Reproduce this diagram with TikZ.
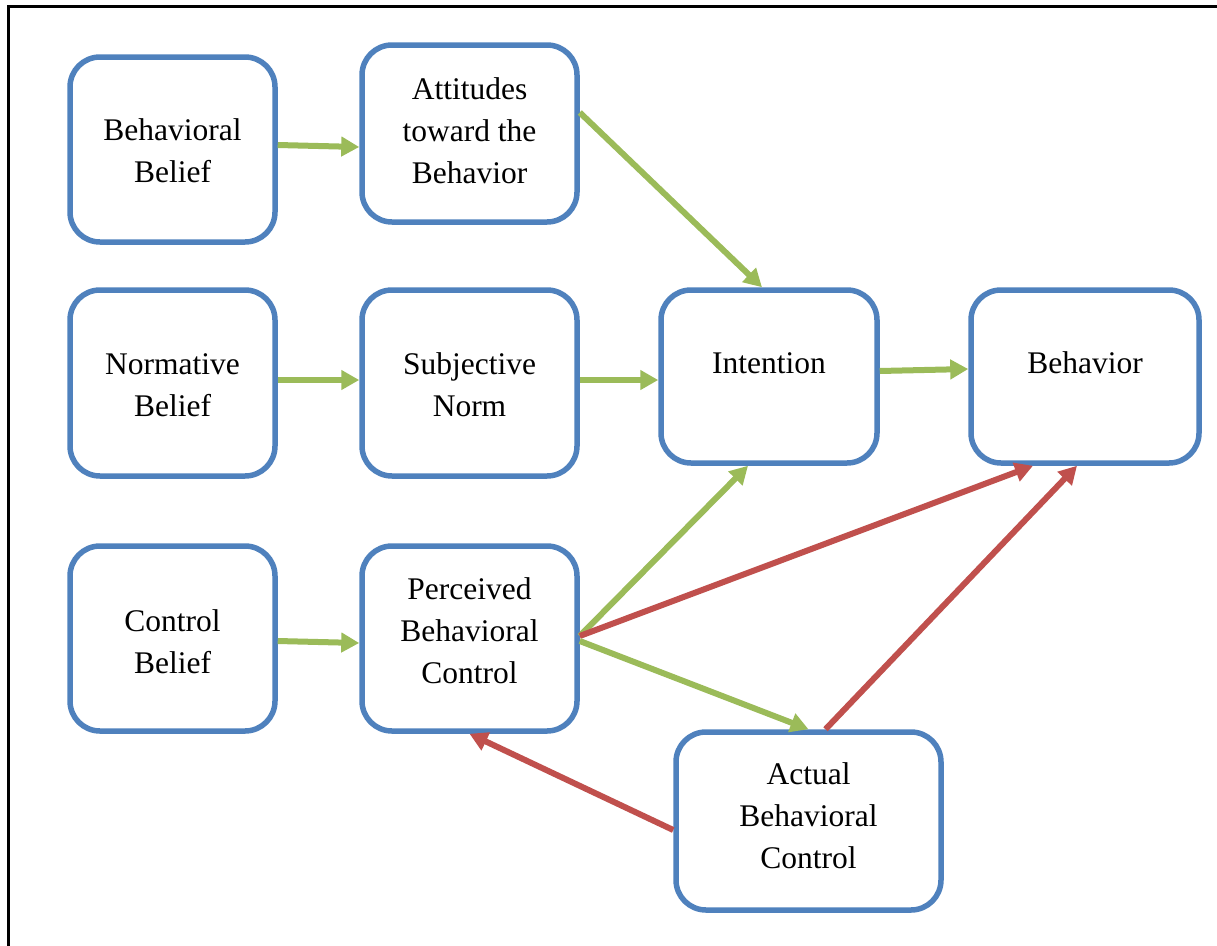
\documentclass[tikz,border=0pt]{standalone}
\usepackage{fontspec}
\setmainfont{Liberation Serif}
\usetikzlibrary{arrows.meta}
\definecolor{boxblue}{HTML}{4F81BD}
\definecolor{arrgreen}{HTML}{9BBB59}
\definecolor{arrred}{HTML}{C0504D}
\tikzset{
  box/.style={draw=boxblue, line width=5.5pt, rounded corners=30pt, align=center, inner sep=0pt,
    font=\fontsize{31.5}{42}\selectfont},
  garrow/.style={draw=arrgreen, line width=6pt, -{Triangle[length=18pt,width=19pt]}},
  rarrow/.style={draw=arrred, line width=6pt, -{Triangle[length=18pt,width=19pt]}},
}
\newcommand{\lift}[2]{\raisebox{#1}[\height][\depth]{\begin{tabular}{@{}c@{}}#2\end{tabular}}}
\begin{document}
\begin{tikzpicture}[x=1pt,y=-1pt]
\useasboundingbox (0,0) rectangle (1217,945);
\draw[line width=3pt, line cap=rect] (8,945) -- (8,6) -- (1217,6);
\node[box, minimum width=205pt, minimum height=185pt] (bb) at (172.5,149.5) {\lift{-3.5pt}{Behavioral\\Belief}};
\node[box, minimum width=215pt, minimum height=177pt] (att) at (469.5,133.5) {\lift{0pt}{Attitudes\\toward the\\Behavior}};
\node[box, minimum width=205pt, minimum height=186pt] (nb) at (172.5,383) {\lift{-4pt}{Normative\\Belief}};
\node[box, minimum width=215pt, minimum height=186pt] (sn) at (469.5,383) {\lift{-4pt}{Subjective\\Norm}};
\node[box, minimum width=216pt, minimum height=173pt] (int) at (769,376.5) {\lift{11pt}{Intention}};
\node[box, minimum width=228pt, minimum height=173pt] (beh) at (1085,376.5) {\lift{11pt}{Behavior}};
\node[box, minimum width=205pt, minimum height=185pt] (cb) at (172.5,638.5) {\lift{-6pt}{Control\\Belief}};
\node[box, minimum width=215pt, minimum height=185pt] (pbc) at (469.5,638.5) {\lift{5pt}{Perceived\\Behavioral\\Control}};
\node[box, minimum width=265pt, minimum height=178pt] (act) at (808.5,821) {\lift{3pt}{Actual\\Behavioral\\Control}};
\draw[garrow] ([yshift=4.5pt]bb.east) -- ([yshift=2.5pt]att.west |- bb.east);
\draw[garrow] ([yshift=21pt]att.east) -- ([xshift=-7pt]int.north);
\draw[garrow] ([yshift=3pt]nb.east) -- ([yshift=3pt]sn.west);
\draw[garrow] ([yshift=3pt]sn.east) -- ([yshift=-3.5pt]int.west);
\draw[garrow] ([yshift=5.5pt]int.east) -- ([yshift=7.5pt]beh.west);
\draw[garrow] ([yshift=2.5pt]pbc.east) -- ([xshift=-21pt]int.south);
\draw[rarrow] ([yshift=2.5pt]pbc.east) -- ([xshift=-52pt]beh.south);
\draw[garrow] ([yshift=-2.5pt]pbc.east) -- (act.north);
\draw[rarrow] ([xshift=17pt]act.north) -- ([xshift=-8pt]beh.south);
\draw[rarrow] ([yshift=-9pt]act.west) -- (pbc.south);
\draw[garrow] ([yshift=-2.5pt]cb.east) -- ([yshift=-4.5pt]pbc.west |- cb.east);
\end{tikzpicture}
\end{document}
